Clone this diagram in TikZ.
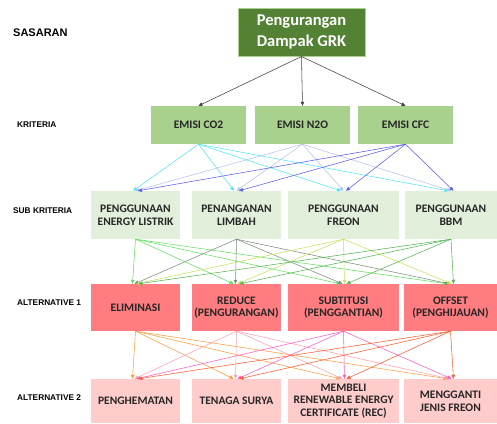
\documentclass[tikz,border=0pt]{standalone}
\usepackage{fontspec}
\setmainfont{Carlito}
\newfontfamily\arialfont{Liberation Sans}
\usetikzlibrary{arrows.meta}

\definecolor{hijautua}{RGB}{84,130,53}
\definecolor{hijaumuda}{RGB}{169,209,142}
\definecolor{hijaupucat}{RGB}{226,239,218}
\definecolor{merah}{RGB}{255,124,128}
\definecolor{merahmuda}{RGB}{255,204,204}
\definecolor{teks}{RGB}{38,38,38}
\definecolor{biru1}{RGB}{80,230,240}
\definecolor{biru2}{RGB}{180,195,230}
\definecolor{biru3}{RGB}{90,90,240}
\definecolor{hijau1}{RGB}{95,225,95}
\definecolor{hijau2}{RGB}{125,140,125}
\definecolor{hijau3}{RGB}{200,224,90}
\definecolor{hijau4}{RGB}{85,180,85}
\definecolor{jingga1}{RGB}{255,155,65}
\definecolor{jingga2}{RGB}{255,160,175}
\definecolor{jingga3}{RGB}{255,90,190}
\definecolor{jingga4}{RGB}{255,90,45}

\begin{document}
\begin{tikzpicture}[x=1pt,y=-1pt,
  kotak/.style={inner sep=0pt,align=center,text=teks,font=\bfseries\fontsize{11.5}{12.8}\selectfont},
  level/.style={anchor=west,inner sep=0pt,font=\arialfont\bfseries\fontsize{8.3}{10}\selectfont},
  panah/.style={-{Triangle[length=4pt,width=3.5pt]},line width=0.55pt}]
\useasboundingbox (0,0) rectangle (497,423);

\node[level,font=\arialfont\bfseries\fontsize{11}{13}\selectfont] (lsasaran) at (13,33) {SASARAN};
\node[level] (lkriteria) at (17,125) {KRITERIA};
\node[level] (lsub) at (13,211) {SUB KRITERIA};
\node[level] (lalt1) at (17,303) {ALTERNATIVE 1};
\node[level] (lalt2) at (17,398) {ALTERNATIVE 2};

\node[kotak,fill=hijautua,draw=hijaumuda,line width=1pt,text=white,minimum width=127pt,minimum height=48pt,
  font=\bfseries\fontsize{16.5}{20.5}\selectfont] (goal) at (301.5,32) {Pengurangan\\Dampak GRK};

\node[kotak,fill=hijaumuda,minimum width=95pt,minimum height=38pt] (k1) at (198.5,125) {EMISI CO2};
\node[kotak,fill=hijaumuda,minimum width=95pt,minimum height=38pt] (k2) at (302.5,125) {EMISI N2O};
\node[kotak,fill=hijaumuda,minimum width=95pt,minimum height=38pt] (k3) at (405.5,125) {EMISI CFC};

\node[kotak,fill=hijaupucat,minimum width=89pt,minimum height=48pt] (s1) at (135.5,215) {PENGGUNAAN\\ENERGY LISTRIK};
\node[kotak,fill=hijaupucat,minimum width=89pt,minimum height=48pt] (s2) at (236.5,215) {PENANGANAN\\LIMBAH};
\node[kotak,fill=hijaupucat,minimum width=111pt,minimum height=48pt] (s3) at (343.5,215) {PENGGUNAAN\\FREON};
\node[kotak,fill=hijaupucat,minimum width=92pt,minimum height=48pt] (s4) at (451,215) {PENGGUNAAN\\BBM};

\node[kotak,fill=merah,minimum width=89pt,minimum height=47pt] (a1) at (135.5,307.5) {ELIMINASI};
\node[kotak,fill=merah,minimum width=89pt,minimum height=47pt] (a2) at (236.5,307.5) {REDUCE\\(PENGURANGAN)};
\node[kotak,fill=merah,minimum width=111pt,minimum height=47pt] (a3) at (343.5,307.5) {SUBTITUSI\\(PENGGANTIAN)};
\node[kotak,fill=merah,minimum width=93pt,minimum height=47pt] (a4) at (450.5,307.5) {OFFSET\\(PENGHIJAUAN)};

\node[kotak,fill=merahmuda,minimum width=89pt,minimum height=44pt] (b1) at (135.5,401) {PENGHEMATAN};
\node[kotak,fill=merahmuda,minimum width=89pt,minimum height=44pt] (b2) at (236.5,401) {TENAGA SURYA};
\node[kotak,fill=merahmuda,minimum width=111pt,minimum height=44pt] (b3) at (343.5,401) {MEMBELI\\RENEWABLE ENERGY\\CERTIFICATE (REC)};
\node[kotak,fill=merahmuda,minimum width=93pt,minimum height=44pt] (b4) at (450.5,401) {MENGGANTI\\JENIS FREON};

\foreach \k in {k1,k2,k3}
  \draw[panah,black!75] (goal.south) -- (\k.north);

\foreach \k/\c/\d in {k1/biru1/-2.5,k2/biru2/0,k3/biru3/2.5}
  \foreach \s in {s1,s2,s3,s4}
    \draw[panah,\c] (\k.south) -- ([xshift=\d pt]\s.north);

\foreach \s/\c/\d in {s1/hijau1/-3,s2/hijau2/-1,s3/hijau3/1,s4/hijau4/3}
  \foreach \a in {a1,a2,a3,a4}
    \draw[panah,\c] (\s.south) -- ([xshift=\d pt]\a.north);

\foreach \a/\c/\d in {a1/jingga1/-3,a2/jingga2/-1,a3/jingga3/1,a4/jingga4/3}
  \foreach \b in {b1,b2,b3,b4}
    \draw[panah,\c] (\a.south) -- ([xshift=\d pt]\b.north);
\end{tikzpicture}
\end{document}
